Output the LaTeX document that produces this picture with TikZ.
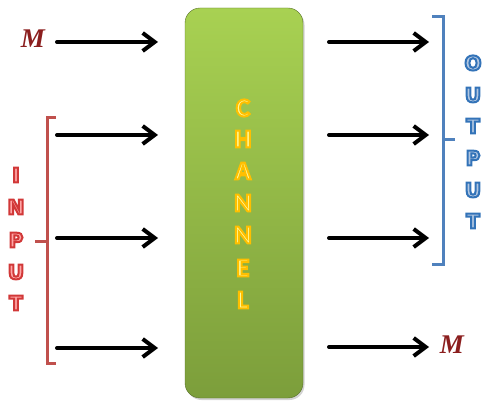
\documentclass[tikz,border=0pt]{standalone}
\usepackage{fontspec}
\usetikzlibrary{arrows.meta,shadows}
\newfontfamily\letfont{DejaVu Sans}
\newfontfamily\chfont{Carlito}
\newfontfamily\mfont{Liberation Serif}
\definecolor{boxtop}{HTML}{A8D152}
\definecolor{boxbot}{HTML}{7C9E3B}
\definecolor{inred}{HTML}{C0504D}
\definecolor{outblue}{HTML}{4F81BD}
\definecolor{mred}{HTML}{8B1E1E}
% outlined letter: stroke colour (rgb), fill colour, text
\newcommand\outlet[3]{{\color{#2}\special{pdf:literal direct #1 RG 2 Tr 2 w}#3\special{pdf:literal direct 0 Tr}}}

\begin{document}
\begin{tikzpicture}[x=1pt,y=-1pt,
  arr/.style={line width=4pt,line cap=round,-{Straight Barb[length=12pt,width=18pt]}},
  chanbox/.style={rounded corners=15pt,minimum width=118pt,minimum height=390pt,
    top color=boxtop,bottom color=boxbot,draw=boxbot!70!black,line width=0.4pt,
    drop shadow={opacity=0.35,shadow xshift=1.5pt,shadow yshift=-2pt}},
  inlet/.style={font=\letfont\bfseries\fontsize{20}{20}\selectfont,inner sep=0pt},
  chlet/.style={font=\chfont\bfseries\fontsize{26}{26}\selectfont,inner sep=0pt},
  mlab/.style={font=\mfont\bfseries\itshape\fontsize{27}{27}\selectfont,text=mred,inner sep=0pt}]
  \useasboundingbox (0,0) rectangle (488,401);
  % channel
  \node[chanbox] (chan) at (244,203) {};
  \foreach \l/\y [count=\i] in {C/108,H/139,A/171,N/203,N/235,E/268,L/300}
    \node[chlet] (ch\i) at (243,\y) {\outlet{1 0.75 0}{yellow!40}{\l}};
  % arrows in
  \foreach \y [count=\i] in {42,135,238,348} {
    \coordinate (inA\i) at (57,\y);
    \coordinate (inB\i) at (158,\y);
    \draw[arr] (inA\i) -- (inB\i);
  }
  % arrows out
  \foreach \y [count=\i] in {42,135,238,347} {
    \coordinate (outA\i) at (329,\y);
    \coordinate (outB\i) at (429,\y);
    \draw[arr] (outA\i) -- (outB\i);
  }
  \node[mlab] (mIn) at (33,39) {M};
  \node[mlab] (mOut) at (452,345) {M};
  % brackets
  \draw[inred,line width=3pt] (56,118) -- (47,118) -- (47,363) -- (56,363);
  \draw[inred,line width=3pt] (47,242) -- (35,242);
  \draw[outblue,line width=3pt] (432,17) -- (443,17) -- (443,265) -- (432,265);
  \draw[outblue,line width=3pt] (443,140) -- (455,140);
  % labels
  \foreach \l/\y [count=\i] in {I/175,N/207,P/240,U/272,T/303}
    \node[inlet] (inp\i) at (16,\y) {\outlet{0.82 0.22 0.22}{red!35}{\l}};
  \foreach \l/\y [count=\i] in {O/63,U/95,T/126,P/158,U/190,T/221}
    \node[inlet] (outp\i) at (473,\y) {\outlet{0.2 0.45 0.72}{outblue!45}{\l}};
\end{tikzpicture}
\end{document}
